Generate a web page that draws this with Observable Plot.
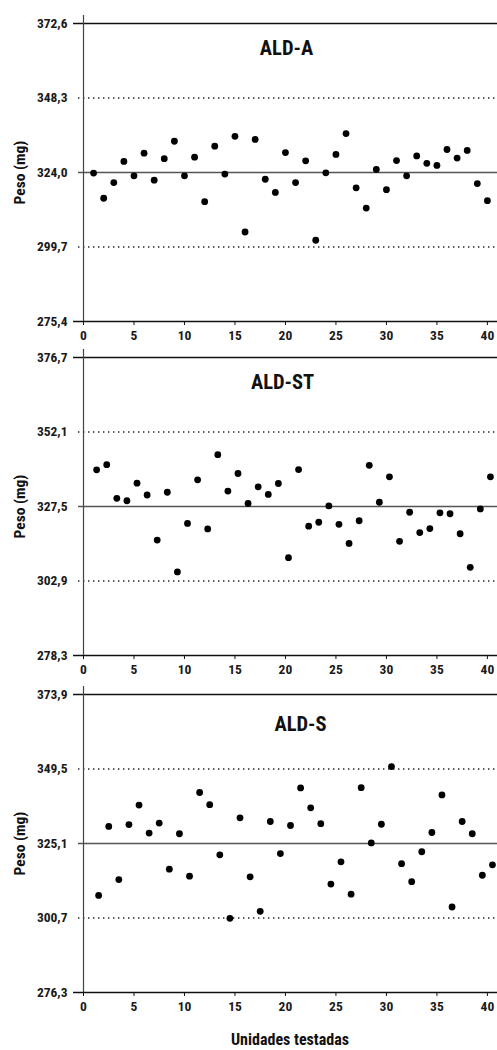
<!DOCTYPE html>
<html><head><meta charset="utf-8">
<script src="https://cdn.jsdelivr.net/npm/d3@7"></script>
<script src="https://cdn.jsdelivr.net/npm/@observablehq/plot@0.6"></script>
<style>
body{margin:0;background:#fff;}
#chart{width:497px;}
svg{display:block;}
.xlabel{margin-left:83px;width:414px;height:32px;padding-top:12px;line-height:20px;text-align:center;
font-family:"Roboto Condensed",Roboto,"Liberation Sans",sans-serif;font-weight:bold;font-size:16px;color:#111;}
</style></head>
<body><div id="chart"></div>
<script>
// ---- data ----
const unitsA = [1,2,3,4,5,6,7,8,9,10,11,12,13,14,15,16,17,18,19,20,21,22,23,24,25,26,27,28,29,30,31,32,33,34,35,36,37,38,39,40];
const pesoA = [323.8,315.6,320.7,327.6,322.9,330.3,321.5,328.5,334.2,322.9,329.0,314.5,332.6,323.5,335.8,304.6,334.8,321.8,317.5,330.5,320.7,327.8,301.9,323.9,329.9,336.7,319.0,312.4,325.0,318.4,327.9,322.9,329.4,327.0,326.3,331.5,328.7,331.2,320.4,314.8];
const ticksA = [275.4,299.7,324.0,348.3,372.6];

const unitsST = [1.3,2.3,3.3,4.3,5.3,6.3,7.3,8.3,9.3,10.3,11.3,12.3,13.3,14.3,15.3,16.3,17.3,18.3,19.3,20.3,21.3,22.3,23.3,24.3,25.3,26.3,27.3,28.3,29.3,30.3,31.3,32.3,33.3,34.3,35.3,36.3,37.3,38.3,39.3,40.3];
const pesoST = [339.6,341.3,330.2,329.4,335.2,331.3,316.4,332.2,305.9,321.9,336.3,320.1,344.6,332.6,338.4,328.5,334.0,331.5,335.1,310.6,339.7,321.0,322.3,327.7,321.6,315.3,322.8,341.1,328.9,337.3,316.0,325.6,318.9,320.2,325.4,325.1,318.5,307.4,326.7,337.3];
const ticksST = [278.3,302.9,327.5,352.1,376.7];

const unitsS = [1.5,2.5,3.5,4.5,5.5,6.5,7.5,8.5,9.5,10.5,11.5,12.5,13.5,14.5,15.5,16.5,17.5,18.5,19.5,20.5,21.5,22.5,23.5,24.5,25.5,26.5,27.5,28.5,29.5,30.5,31.5,32.5,33.5,34.5,35.5,36.5,37.5,38.5,39.5,40.5];
const pesoS = [308.1,330.7,313.3,331.3,337.7,328.5,331.8,316.7,328.3,314.4,341.8,337.8,321.4,300.6,333.5,314.2,302.9,332.3,321.8,331.0,343.3,336.8,331.6,311.8,319.1,308.5,343.4,325.3,331.4,350.3,318.5,312.6,322.4,328.7,341.0,304.3,332.3,328.3,314.7,318.1];
const ticksS = [276.3,300.7,325.1,349.5,373.9];

const titles = ["ALD-A","ALD-ST","ALD-S"];
const xTicks = [0,5,10,15,20,25,30,35,40];
const yLabel = "Peso (mg)";
const xLabel = "Unidades testadas";

// ---- layout ----
const layouts = [
  {mt:23, mb:25, tdx:-4, tdy:25},
  {mt:11, mb:25, tdx:-8, tdy:25},
  {mt:14, mb:26, tdx:10, tdy:30}
];
const series = [[unitsA,pesoA,ticksA],[unitsST,pesoST,ticksST],[unitsS,pesoS,ticksS]];
const font = '"Roboto Condensed",Roboto,"Liberation Sans",sans-serif';
const fmt = d => d.toFixed(1).replace(".", ",");

const chart = document.getElementById("chart");
series.forEach(([xs, ys, ticks], i) => {
  const L = layouts[i];
  const data = xs.map((x, j) => ({x, y: ys[j]}));
  const plot = Plot.plot({
    width: 497,
    height: L.mt + 298 + L.mb,
    marginTop: L.mt, marginBottom: L.mb, marginLeft: 83, marginRight: 0,
    style: {fontFamily: font, fontSize: "13.5px", color: "#1a1a1a", overflow: "visible"},
    x: {domain: [0, 41]},
    y: {domain: [ticks[0], ticks[4]]},
    marks: [
      Plot.ruleY([ticks[1], ticks[3]], {stroke: "#222", strokeWidth: 1.3, strokeDasharray: "1.4,3.6", insetLeft: -5}),
      Plot.ruleY([ticks[2]], {stroke: "#555", strokeWidth: 1.3, insetLeft: -5}),
      Plot.ruleY([ticks[0], ticks[4]], {stroke: "#111", strokeWidth: 1.6, insetLeft: -10}),
      Plot.ruleX([0], {stroke: "#444", strokeWidth: 1.2, insetTop: -8}),
      Plot.axisY({ticks, tickSize: 0, tickPadding: 16, tickFormat: fmt, label: null, fontWeight: "bold"}),
      Plot.axisX({ticks: xTicks, tickSize: 4, tickPadding: 5, label: null, fontWeight: "bold", stroke: "#111"}),
      Plot.dot(data, {x: "x", y: "y", r: 3.4, fill: "#000", stroke: "none"}),
      Plot.text([titles[i]], {frameAnchor: "top", dx: L.tdx, dy: L.tdy, fontSize: 20.5, fontWeight: "bold", fontFamily: font, fill: "#111", lineAnchor: "middle"}),
      Plot.text([yLabel], {frameAnchor: "left", dx: -63, rotate: -90, textAnchor: "middle", lineAnchor: "middle", fontSize: 15.5, fontWeight: "bold", fontFamily: font, fill: "#111"})
    ]
  });
  chart.appendChild(plot);
});
const cap = document.createElement("div");
cap.className = "xlabel";
cap.textContent = xLabel;
chart.appendChild(cap);
</script>
</body></html>
